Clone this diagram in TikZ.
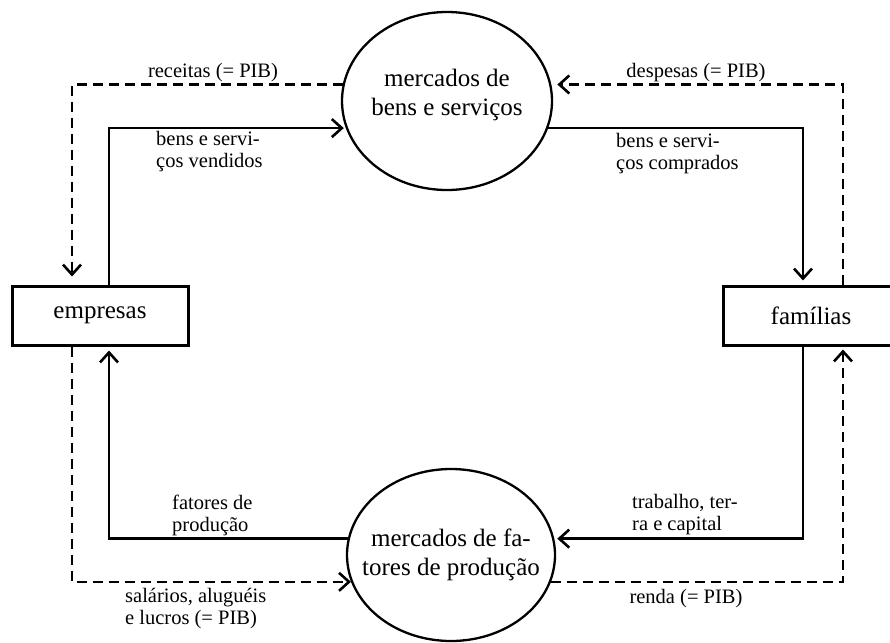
\documentclass[tikz,border=0pt]{standalone}
\usepackage{fontspec}
\setmainfont{Liberation Serif}
\usetikzlibrary{shapes.geometric,arrows.meta}
\tikzset{
  market/.style={ellipse, draw, line width=2.3pt, inner xsep=-20pt, inner ysep=0pt, align=center,
    font=\fontsize{25}{29}\selectfont},
  agent/.style={rectangle, draw, line width=3pt, minimum width=176pt, minimum height=59pt,
    inner sep=0pt, font=\fontsize{25}{29}\selectfont},
  flow/.style={line width=2.6pt, -{Straight Barb[length=10pt,width=18pt,line width=2.6pt]}},
  money/.style={flow, dash pattern=on 10pt off 6pt},
  lbl/.style={font=\fontsize{20.5}{22}\selectfont, inner sep=0pt, align=left},
}
\begin{document}
\begin{tikzpicture}[x=1pt,y=-1pt]
\useasboundingbox (0,0) rectangle (890,642);
\clip (0,0) rectangle (890,642);
\fill[white] (0,0) rectangle (890,642);

% nodes
\node[market, minimum width=210pt, minimum height=178pt] (bens) at (447,101)
  {mercados de\\bens e serviços\rule[-18pt]{0pt}{18pt}};
\node[market, minimum width=208pt, minimum height=172pt] (fatores) at (451,555)
  {mercados de fa-\\tores de produção};
\node[agent] (empresas) at (100,315.5) {empresas};
\node[agent] (familias) at (811,315.5) {famílias};

% helper columns
\coordinate (xLa) at (72,0);
\coordinate (xLb) at (109,0);
\coordinate (xRa) at (803,0);
\coordinate (xRb) at (843,0);

% connectors
\draw[flow, shorten >=2pt] (empresas.north -| xLb) |- (bens.195);
\draw[money, shorten >=8pt] (bens.171) -| (empresas.north -| xLa);
\draw[flow, shorten >=4pt] (bens.-15) -| (familias.north -| xRa);
\draw[money, shorten >=6pt] (familias.north -| xRb) |- (bens.9);
\draw[flow, shorten >=4pt] (fatores.171) -| (empresas.south -| xLb);
\draw[money] (empresas.south -| xLa) |- (fatores.195);
\draw[flow, shorten >=3pt] (familias.south -| xRa) |- (fatores.9);
\draw[money, shorten >=3pt] (fatores.-15) -| (familias.south -| xRb);

% labels
\node[lbl, anchor=base] (lrec) at (213,77) {receitas (= PIB)};
\node[lbl, anchor=base] (ldesp) at (696,77) {despesas (= PIB)};
\node[lbl, anchor=north west] (lvend) at (156,131) {bens e servi-\\ços vendidos};
\node[lbl, anchor=north west] (lcomp) at (616,133) {bens e servi-\\ços comprados};
\node[lbl, anchor=north west] (lfat) at (172,495) {fatores de\\produção};
\node[lbl, anchor=north west] (lsal) at (125,588) {salários, aluguéis\\e lucros (= PIB)};
\node[lbl, anchor=north west] (ltrab) at (632,494) {trabalho, ter-\\ra e capital};
\node[lbl, anchor=base] (lrenda) at (686,603) {renda (= PIB)};
\end{tikzpicture}
\end{document}
